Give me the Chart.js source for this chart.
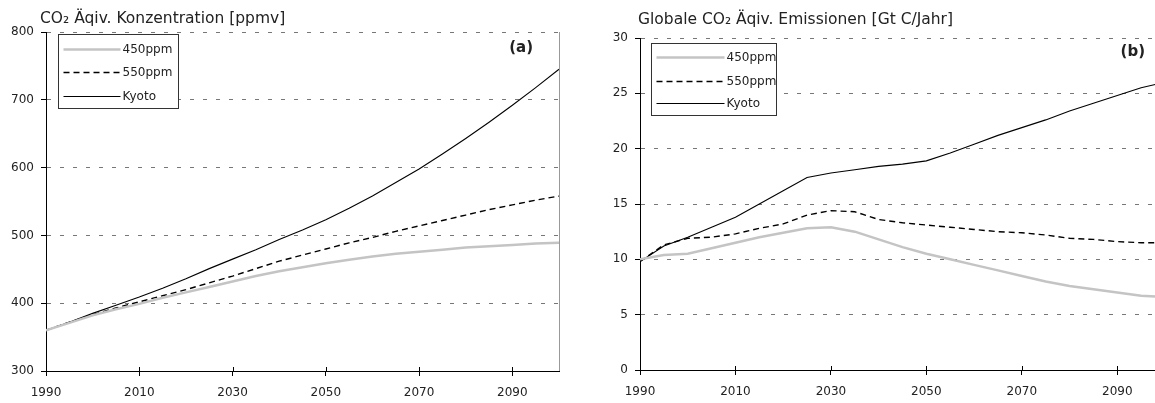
<!DOCTYPE html>
<html>
<head>
<meta charset="utf-8">
<script src="https://cdn.jsdelivr.net/npm/chart.js@4.4.1/dist/chart.umd.min.js"></script>
<style>
  html, body { margin: 0; padding: 0; background: #fff; overflow: hidden; }
  #wrap { position: relative; width: 1155px; height: 403px; overflow: hidden; }
  .panel { position: absolute; top: 0; height: 403px; }
  #p1 { left: 0; width: 575px; }
  #p2 { left: 580px; width: 590px; }
</style>
</head>
<body>
<div id="wrap">
  <div class="panel" id="p1"><canvas id="c1"></canvas></div>
  <div class="panel" id="p2"><canvas id="c2"></canvas></div>
</div>
<script>
// years for all series
const years = [1990, 1995, 2000, 2005, 2010, 2015, 2020, 2025, 2030, 2035, 2040, 2045, 2050,
  2055, 2060, 2065, 2070, 2075, 2080, 2085, 2090, 2095, 2100];
const xTicks = [1990, 2010, 2030, 2050, 2070, 2090];

// (a) concentration, ppmv
const conc450 = [360, 371, 382, 391, 399, 408, 416, 424, 432, 440, 447, 453, 459, 464, 469, 473, 476, 479, 482, 484, 486, 488, 489];
const conc550 = [360, 372, 383, 393, 402, 411, 420, 430, 440, 451, 462, 471, 480, 489, 497, 506, 514, 522, 530, 538, 545, 552, 558];
const concKyoto = [360, 372, 385, 397, 409, 422, 436, 451, 465, 479, 494, 508, 523, 540, 558, 578, 598, 620, 643, 667, 692, 718, 745];
const concTicks = [300, 400, 500, 600, 700, 800];

// (b) emissions, Gt C/Jahr
const emis450 = [10.0, 10.4, 10.5, 11.0, 11.5, 12.0, 12.4, 12.8, 12.9, 12.5, 11.8, 11.1, 10.5, 10.0, 9.5, 9.0, 8.5, 8.0, 7.6, 7.3, 7.0, 6.7, 6.6];
const emis550 = [9.8, 11.3, 11.9, 12.0, 12.3, 12.8, 13.2, 14.0, 14.4, 14.3, 13.6, 13.3, 13.1, 12.9, 12.7, 12.5, 12.4, 12.2, 11.9, 11.8, 11.6, 11.5, 11.5];
const emisKyoto = [9.8, 11.2, 12.0, 12.9, 13.8, 15.0, 16.2, 17.4, 17.8, 18.1, 18.4, 18.6, 18.9, 19.6, 20.4, 21.2, 21.9, 22.6, 23.4, 24.1, 24.8, 25.5, 26.0];
const emisTicks = [0, 5, 10, 15, 20, 25, 30];

const seriesNames = ['450ppm', '550ppm', 'Kyoto'];
const FONT = '"DejaVu Sans", sans-serif';
const TEXT = '#222';

function pts(vals) {
  return vals.map((v, i) => ({ x: years[i], y: v }));
}

function makeDatasets(a, b, c) {
  return [
    { label: seriesNames[0], data: pts(a), borderColor: '#c4c4c4', borderWidth: 2.5 },
    { label: seriesNames[1], data: pts(b), borderColor: '#000', borderWidth: 1.4, borderDash: [6, 4] },
    { label: seriesNames[2], data: pts(c), borderColor: '#000', borderWidth: 1.1 }
  ].map(d => Object.assign(d, { pointRadius: 0, tension: 0, fill: false }));
}

// title, panel letter, boxed legend, right border, crossing x ticks
const panelPlugin = {
  id: 'panel',
  afterDraw(chart, args, opts) {
    const ctx = chart.ctx;
    const area = chart.chartArea;
    ctx.save();
    ctx.fillStyle = TEXT;
    ctx.textBaseline = 'middle';
    ctx.font = '15.5px ' + FONT;
    ctx.textAlign = 'left';
    ctx.fillText(opts.title, opts.titleX, opts.titleY);

    ctx.font = 'bold 15px ' + FONT;
    ctx.textAlign = 'right';
    ctx.fillText(opts.letter, area.right - opts.letterDx, area.top + opts.letterDy);

    if (opts.rightBorder) {
      ctx.strokeStyle = '#999';
      ctx.lineWidth = 1;
      ctx.beginPath();
      ctx.moveTo(area.right + 0.5, area.top);
      ctx.lineTo(area.right + 0.5, area.bottom);
      ctx.stroke();
    }

    // short tick marks poking up into the plot
    const xs = chart.scales.x;
    ctx.strokeStyle = '#000';
    ctx.lineWidth = 1;
    xs.ticks.forEach(t => {
      const px = Math.round(xs.getPixelForValue(t.value)) + 0.5;
      ctx.beginPath();
      ctx.moveTo(px, area.bottom);
      ctx.lineTo(px, area.bottom - 4);
      ctx.stroke();
    });

    const lg = opts.legend;
    const bx = Math.round(area.left + lg.dx) + 0.5;
    const by = Math.round(area.top + lg.dy) + 0.5;
    ctx.fillStyle = '#fff';
    ctx.fillRect(bx, by, lg.w, lg.h);
    ctx.strokeStyle = '#333';
    ctx.lineWidth = 1;
    ctx.strokeRect(bx, by, lg.w, lg.h);
    ctx.font = '12px ' + FONT;
    ctx.textAlign = 'left';
    chart.data.datasets.forEach((ds, i) => {
      const y = by + lg.rows[i];
      ctx.strokeStyle = ds.borderColor;
      ctx.lineWidth = ds.borderWidth;
      ctx.setLineDash(ds.borderDash || []);
      ctx.beginPath();
      ctx.moveTo(bx + 5, y);
      ctx.lineTo(bx + lg.sample, y);
      ctx.stroke();
      ctx.setLineDash([]);
      ctx.fillStyle = TEXT;
      ctx.fillText(ds.label, bx + lg.sample + 2, y);
    });
    ctx.restore();
  }
};

function makeOptions(cfg) {
  return {
    responsive: true,
    maintainAspectRatio: false,
    animation: false,
    layout: { padding: cfg.padding },
    plugins: {
      legend: { display: false },
      tooltip: { enabled: false },
      panel: cfg.panel
    },
    scales: {
      x: {
        type: 'linear',
        min: 1990,
        max: 2100,
        afterBuildTicks: s => { s.ticks = xTicks.map(v => ({ value: v })); },
        afterFit: s => { s.height = 26; },
        grid: { display: true, drawOnChartArea: false, drawTicks: true, tickLength: 5, color: '#000' },
        border: { color: '#000', width: 1 },
        ticks: { color: TEXT, font: { family: FONT, size: 12 }, padding: 10, maxRotation: 0, callback: v => String(v) }
      },
      y: {
        min: cfg.yTicks[0],
        max: cfg.yTicks[cfg.yTicks.length - 1],
        afterBuildTicks: s => { s.ticks = cfg.yTicks.map(v => ({ value: v })); },
        afterFit: s => { s.width = cfg.yWidth; },
        grid: { color: '#777', lineWidth: 1, tickLength: 5, tickColor: '#000', tickBorderDash: [] },
        border: { color: '#000', width: 1, dash: [4, 9] },
        ticks: { color: TEXT, font: { family: FONT, size: 12 }, padding: 7, callback: v => String(v) }
      }
    }
  };
}

new Chart(document.getElementById('c1'), {
  type: 'line',
  data: { datasets: makeDatasets(conc450, conc550, concKyoto) },
  options: makeOptions({
    yTicks: concTicks,
    yWidth: 46,
    padding: { left: 0, right: 16, top: 32, bottom: 6 },
    panel: {
      title: 'CO₂ Äqiv. Konzentration [ppmv]', titleX: 40, titleY: 19,
      letter: '(a)', letterDx: 26, letterDy: 16,
      rightBorder: true,
      legend: { dx: 12, dy: 2, w: 120, h: 74, rows: [15, 38, 62], sample: 62 }
    }
  }),
  plugins: [panelPlugin]
});

new Chart(document.getElementById('c2'), {
  type: 'line',
  data: { datasets: makeDatasets(emis450, emis550, emisKyoto) },
  options: makeOptions({
    yTicks: emisTicks,
    yWidth: 60,
    padding: { left: 0, right: 5, top: 38, bottom: 7 },
    panel: {
      title: 'Globale CO₂ Äqiv. Emissionen [Gt C/Jahr]', titleX: 58, titleY: 20,
      letter: '(b)', letterDx: 20, letterDy: 14,
      rightBorder: false,
      legend: { dx: 11, dy: 5, w: 125, h: 72, rows: [14, 38, 60], sample: 73 }
    }
  }),
  plugins: [panelPlugin]
});
</script>
</body>
</html>
